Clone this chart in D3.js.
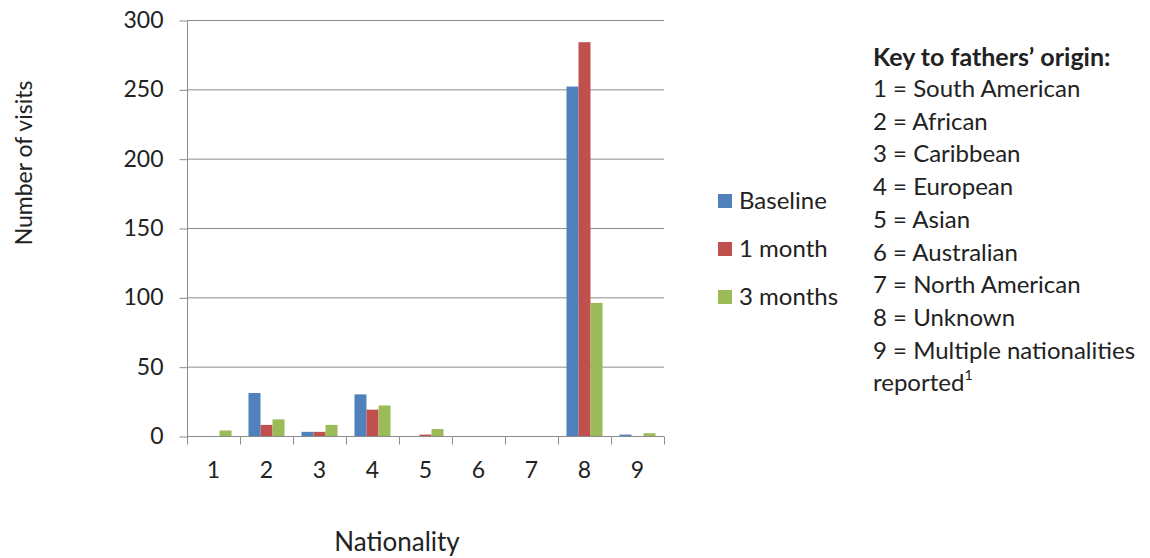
<!DOCTYPE html>
<html lang="en">
<head>
  <meta charset="UTF-8">
  <title>Number of visits by nationality</title>
  <style>
    body { margin: 0; background: #fff; }
    svg text { font-family: Lato, "Open Sans", sans-serif; fill: #222; }
  </style>
</head>
<body>
  <div id="chart"></div>

  <script src="https://d3js.org/d3.v7.min.js"></script>
  <script>

    // data
    const categories = ["1", "2", "3", "4", "5", "6", "7", "8", "9"];
    const seriesNames = ["Baseline", "1 month", "3 months"];
    const baseline = [0, 31, 3, 30, 0, 0, 0, 252, 1];
    const oneMonth = [0, 8, 3, 19, 1, 0, 0, 284, 0];
    const threeMonths = [4, 12, 8, 22, 5, 0, 0, 96, 2];
    const yTicks = [0, 50, 100, 150, 200, 250, 300];
    const keyTitle = "Key to fathers\u2019 origin:";
    const keyLines = ["1 = South American", "2 = African", "3 = Caribbean", "4 = European",
      "5 = Asian", "6 = Australian", "7 = North American", "8 = Unknown",
      "9 = Multiple nationalities"];

    const colors = ["#4F81BD", "#C0504D", "#9BBB59"];
    const series = [baseline, oneMonth, threeMonths];

    // layout
    const margin = { top: 20, left: 187 }
    const width = 477
    const height = 416

    const svg = d3.select("#chart").append("svg")
      .attr("width", 1150)
      .attr("height", 558);

    const g = svg.append("g")
      .attr("transform", `translate(${margin.left}, ${margin.top})`);

    // scales
    const x0 = d3.scaleBand()
      .domain(categories)
      .range([0, width])
      .paddingInner(0.32)
      .paddingOuter(0.16);

    const x1 = d3.scaleBand()
      .domain(seriesNames)
      .range([0, x0.bandwidth()]);

    const y = d3.scaleLinear()
      .domain([0, 300])
      .range([height, 0]);

    // gridlines
    g.append("g")
      .selectAll("line")
      .data(yTicks.slice(1))
      .enter()
      .append("line")
      .attr("x1", 0)
      .attr("x2", width)
      .attr("y1", d => y(d) + 0.5)
      .attr("y2", d => y(d) + 0.5)
      .attr("stroke", "#8c8c8c")
      .attr("stroke-width", 1);

    // bars
    const groups = g.append("g")
      .selectAll("g")
      .data(categories)
      .enter()
      .append("g")
      .attr("transform", d => `translate(${x0(d)}, 0)`);

    groups.selectAll("rect")
      .data((c, i) => seriesNames.map((s, j) => ({ s: s, v: series[j][i], c: colors[j] })))
      .enter()
      .append("rect")
      .attr("x", d => x1(d.s))
      .attr("width", x1.bandwidth())
      .attr("y", d => y(d.v))
      .attr("height", d => height - y(d.v))
      .attr("fill", d => d.c);

    // y axis
    const yAxis = d3.axisLeft(y)
      .tickValues(yTicks)
      .tickSize(8)
      .tickPadding(16);

    g.append("g")
      .attr("class", "y-axis")
      .attr("transform", "translate(0.5, 0)")
      .call(yAxis)
      .call(a => a.select(".domain").attr("stroke", "#8c8c8c").attr("d", `M0,0V${height + 0.5}`))
      .call(a => a.selectAll(".tick line").attr("stroke", "#8c8c8c").attr("transform", "translate(0, 0.5)"))
      .call(a => a.selectAll("text").attr("font-size", "23px").attr("fill", "#222"));

    // x axis: ticks at category boundaries
    g.append("g")
      .attr("transform", `translate(0, ${height + 0.5})`)
      .call(a => a.append("line")
        .attr("x1", 0).attr("x2", width)
        .attr("stroke", "#8c8c8c"))
      .selectAll(".xt")
      .data(d3.range(categories.length + 1))
      .enter()
      .append("line")
      .attr("x1", i => Math.round(i * x0.step()) + 0.5)
      .attr("x2", i => Math.round(i * x0.step()) + 0.5)
      .attr("y1", 0)
      .attr("y2", 8)
      .attr("stroke", "#8c8c8c");

    g.append("g")
      .selectAll("text")
      .data(categories)
      .enter()
      .append("text")
      .attr("x", d => x0(d) + x0.bandwidth() / 2)
      .attr("y", height + 42)
      .attr("text-anchor", "middle")
      .attr("font-size", "23px")
      .text(d => d);

    // axis titles
    svg.append("text")
      .attr("x", 397)
      .attr("y", 551)
      .attr("text-anchor", "middle")
      .attr("font-size", "26px")
      .text("Nationality");

    svg.append("text")
      .attr("transform", "translate(32, 163) rotate(-90)")
      .attr("text-anchor", "middle")
      .attr("font-size", "23px")
      .text("Number of visits");

    // legend
    const legend = svg.append("g")
      .attr("transform", "translate(718, 194)");

    seriesNames.forEach((s, i) => {
      legend.append("rect")
        .attr("x", 0)
        .attr("y", i * 48)
        .attr("width", 14)
        .attr("height", 14)
        .attr("fill", colors[i]);
      legend.append("text")
        .attr("x", 21)
        .attr("y", i * 48 + 15)
        .attr("font-size", "24px")
        .text(s);
    });

    // key to origin
    const key = svg.append("g")
      .attr("transform", "translate(873, 0)");

    key.append("text")
      .attr("y", 66)
      .attr("font-size", "25px")
      .attr("font-weight", "bold")
      .text(keyTitle);

    keyLines.forEach((t, i) => {
      key.append("text")
        .attr("y", 97 + i * 32.7)
        .attr("font-size", "24px")
        .text(t);
    });

    const last = key.append("text")
      .attr("y", 97 + keyLines.length * 32.7)
      .attr("font-size", "24px")
      .text("reported");
    last.append("tspan")
      .attr("font-size", "14px")
      .attr("dy", -11)
      .text("1");

  </script>
</body>
</html>
